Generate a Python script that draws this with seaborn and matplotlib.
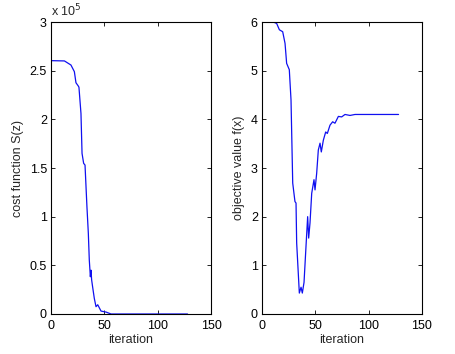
import matplotlib
matplotlib.use("Agg")
import matplotlib.pyplot as plt
import seaborn as sns
import pandas as pd
from matplotlib.ticker import FuncFormatter

sns.set_style("white")
plt.rcParams['font.family'] = ['Liberation Sans', 'DejaVu Sans']

# Left panel: cost function S(z)
cost_iter = [0, 12.6, 18.7, 21.9, 23.4, 25.6, 26.2, 28.1, 29.1, 30.6, 31.9, 33.7, 35.0,
             35.9, 36.9, 37.5, 38.1, 39.0, 40.6, 42.2, 43.8, 46.9, 51.6, 56.3, 128]
cost_val = [260300, 260000, 255800, 249000, 237600, 234200, 233000, 206000, 165000,
            154800, 153000, 110000, 82900, 55500, 38300, 45000, 35000, 28000, 16000,
            7500, 9500, 3000, 2000, 0, 0]

# Right panel: objective value f(x)
obj_iter = [0, 10.6, 13.75, 16.3, 19.4, 21.6, 23.1, 25.6, 27.2, 28.8, 30.9, 31.9, 32.5,
            35.0, 36.6, 37.8, 39.4, 41.25, 42.8, 43.75, 45.0, 46.6, 48.75, 49.7, 51.25,
            52.8, 54.4, 55.6, 57.5, 59.7, 61.25, 63.75, 66.25, 68.4, 71.6, 74.7, 77.8,
            82.5, 87.2, 95, 128]
obj_val = [6.0, 6.0, 5.97, 5.84, 5.80, 5.56, 5.15, 5.02, 4.40, 2.69, 2.31, 2.28, 1.46,
           0.43, 0.55, 0.43, 0.65, 1.39, 2.00, 1.56, 1.87, 2.48, 2.76, 2.55, 2.89,
           3.37, 3.51, 3.33, 3.57, 3.74, 3.71, 3.88, 3.95, 3.92, 4.06, 4.05, 4.10,
           4.08, 4.10, 4.10, 4.10]

x_ticks = [0, 50, 100, 150]
cost_ticks = [0, 50000, 100000, 150000, 200000, 250000, 300000]
obj_ticks = [0, 1, 2, 3, 4, 5, 6]

fig = plt.figure(figsize=(4.56, 3.54), dpi=100)
ax1 = fig.add_axes([51/456, 40/354, 160/456, 292/354])
ax2 = fig.add_axes([262/456, 40/354, 160/456, 292/354])

df1 = pd.DataFrame({"iteration": cost_iter, "cost": cost_val})
df2 = pd.DataFrame({"iteration": obj_iter, "obj": obj_val})

sns.lineplot(data=df1, x="iteration", y="cost", ax=ax1, color="#1010f0", linewidth=0.9)
sns.lineplot(data=df2, x="iteration", y="obj", ax=ax2, color="#1010f0", linewidth=0.9)

for ax in (ax1, ax2):
    ax.set_xlim(0, 150)
    ax.set_xticks(x_ticks)
    ax.set_xlabel("iteration", fontsize=9, labelpad=2)
    ax.tick_params(direction="in", length=3, width=0.6, labelsize=9,
                   top=True, right=True, bottom=True, left=True, colors="black")
    ax.tick_params(axis="x", pad=4)
    ax.tick_params(axis="y", pad=3)
    for s in ax.spines.values():
        s.set_linewidth(0.8)
        s.set_color("black")
        s.set_visible(True)

ax1.set_ylim(0, 300000)
ax1.set_yticks(cost_ticks)
ax1.yaxis.set_major_formatter(FuncFormatter(lambda v, p: f"{v/1e5:g}"))
ax1.set_ylabel("cost function S(z)", fontsize=9, labelpad=4)
ax1.text(0.0, 1.01, r"x 10$^5$", transform=ax1.transAxes, fontsize=9,
         ha="left", va="bottom")

ax2.set_ylim(0, 6)
ax2.set_yticks(obj_ticks)
ax2.set_ylabel("objective value f(x)", fontsize=9, labelpad=4)

fig.savefig("out.png", dpi=100, facecolor="white")
